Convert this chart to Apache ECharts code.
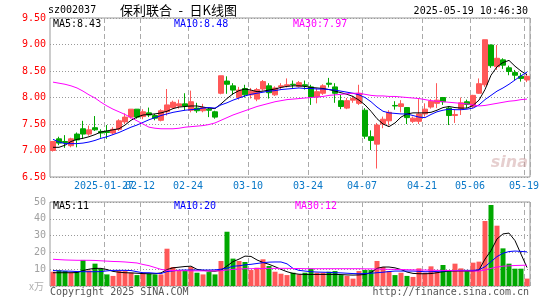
<!DOCTYPE html>
<html><head><meta charset="utf-8">
<script src="https://cdn.jsdelivr.net/npm/echarts@6/dist/echarts.min.js"></script>
<style>html,body{margin:0;padding:0;background:#fff}#c{width:545px;height:300px}</style>
</head><body><div id="c"></div>
<script>
const dates = ['2025-01-14','2025-01-15','2025-01-16','2025-01-17','2025-01-20','2025-01-21','2025-01-22','2025-01-23','2025-01-24','2025-01-27',
'2025-02-05','2025-02-06','2025-02-07','2025-02-10','2025-02-11','2025-02-12','2025-02-13','2025-02-14','2025-02-17','2025-02-18',
'2025-02-19','2025-02-20','2025-02-21','2025-02-24','2025-02-25','2025-02-26','2025-02-27','2025-02-28','2025-03-03','2025-03-04',
'2025-03-05','2025-03-06','2025-03-07','2025-03-10','2025-03-11','2025-03-12','2025-03-13','2025-03-14','2025-03-17','2025-03-18',
'2025-03-19','2025-03-20','2025-03-21','2025-03-24','2025-03-25','2025-03-26','2025-03-27','2025-03-28','2025-03-31','2025-04-01',
'2025-04-02','2025-04-03','2025-04-07','2025-04-08','2025-04-09','2025-04-10','2025-04-11','2025-04-14','2025-04-15','2025-04-16',
'2025-04-17','2025-04-18','2025-04-21','2025-04-22','2025-04-23','2025-04-24','2025-04-25','2025-04-28','2025-04-29','2025-04-30',
'2025-05-06','2025-05-07','2025-05-08','2025-05-09','2025-05-12','2025-05-13','2025-05-14','2025-05-15','2025-05-16','2025-05-19'];

const opens = [7.00,7.22,7.17,7.09,7.31,7.41,7.31,7.43,7.36,7.36, 7.33,7.40,7.54,7.63,7.78,7.64,7.71,7.66,7.57,7.73,
7.81,7.84,7.88,7.76,7.80,7.75,7.78,7.73,8.08,8.31, 8.22,8.00,8.17,8.05,7.97,8.16,8.22,8.05,8.20,8.22,
8.25,8.21,8.24,8.20,8.01,8.08,8.27,8.20,7.94,7.80, 7.95,7.89,7.76,7.26,7.12,7.50,7.56,7.85,7.83,7.81,
7.55,7.55,7.69,7.82,7.89,8.00,7.80,7.66,7.79,7.92, 7.83,8.08,8.24,8.99,8.58,8.71,8.56,8.47,8.40,8.33];
const closes = [7.17,7.14,7.15,7.22,7.20,7.31,7.39,7.39,7.33,7.34, 7.40,7.56,7.63,7.78,7.63,7.73,7.67,7.61,7.75,7.86,
7.91,7.88,7.84,7.92,7.75,7.81,7.76,7.63,8.41,8.25, 8.14,8.14,8.05,8.12,8.15,8.30,8.09,8.18,8.22,8.24,
8.24,8.28,8.22,8.01,8.11,8.22,8.25,8.08,7.83,7.94, 7.98,8.08,7.27,7.19,7.48,7.59,7.72,7.84,7.88,7.62,
7.61,7.69,7.78,7.93,7.95,7.92,7.66,7.68,7.90,7.87, 8.04,8.26,9.09,8.60,8.74,8.61,8.49,8.42,8.36,8.40];
const lows = [6.98,7.10,7.05,7.06,7.06,7.22,7.28,7.37,7.24,7.22, 7.30,7.37,7.50,7.60,7.60,7.59,7.63,7.57,7.55,7.66,
7.79,7.79,7.76,7.72,7.71,7.72,7.63,7.60,8.06,8.07, 8.05,7.96,8.00,7.98,7.93,8.13,7.98,8.03,8.15,8.19,
8.18,8.19,8.15,7.86,7.89,8.05,8.19,7.90,7.78,7.78, 7.90,7.86,7.22,7.01,6.66,7.42,7.47,7.77,7.72,7.50,
7.52,7.50,7.64,7.79,7.80,7.86,7.48,7.52,7.67,7.80, 7.80,8.07,8.20,8.56,8.52,8.54,8.42,8.33,8.30,8.29];
const highs = [7.18,7.26,7.29,7.24,7.34,7.56,7.47,7.65,7.40,7.48, 7.44,7.59,7.70,7.78,7.78,7.78,7.81,7.69,7.78,8.16,
7.94,7.96,8.08,8.13,7.90,7.88,7.81,7.75,8.41,8.40, 8.27,8.20,8.24,8.18,8.18,8.33,8.27,8.21,8.27,8.36,
8.32,8.31,8.32,8.24,8.17,8.25,8.37,8.27,8.05,7.99, 8.03,8.24,7.80,7.38,7.52,7.64,7.76,7.93,7.95,7.82,
7.64,7.97,7.89,7.97,8.27,8.01,7.83,7.78,8.00,7.96, 8.05,8.36,9.09,9.00,8.99,8.74,8.60,8.52,8.46,8.45];

const ma5 = [7.06,7.06,7.10,7.17,7.21,7.23,7.26,7.30,7.35,7.37, 7.39,7.41,7.48,7.57,7.63,7.67,7.68,7.69,7.71,7.74,
7.79,7.82,7.83,7.84,7.84,7.82,7.80,7.79,7.88,7.98, 8.07,8.13,8.16,8.14,8.11,8.12,8.14,8.16,8.19,8.21,
8.22,8.22,8.21,8.19,8.18,8.17,8.15,8.12,8.09,8.06, 8.02,7.95,7.86,7.74,7.60,7.50,7.45,7.52,7.63,7.69,
7.71,7.71,7.71,7.72,7.76,7.81,7.83,7.81,7.80,7.80, 7.85,7.95,8.15,8.42,8.58,8.66,8.70,8.59,8.50,8.43];
const ma10 = [7.21,7.16,7.13,7.13,7.13,7.14,7.16,7.19,7.23,7.26, 7.30,7.34,7.39,7.44,7.48,7.53,7.58,7.62,7.66,7.69,
7.72,7.74,7.76,7.77,7.78,7.80,7.81,7.80,7.86,7.90, 7.95,7.99,8.03,8.06,8.08,8.10,8.12,8.13,8.15,8.16,
8.17,8.18,8.17,8.17,8.16,8.16,8.15,8.14,8.12,8.10, 8.08,8.05,8.00,7.92,7.82,7.74,7.71,7.70,7.69,7.69,
7.66,7.63,7.62,7.68,7.73,7.76,7.78,7.77,7.77,7.78, 7.80,7.86,7.96,8.04,8.12,8.18,8.25,8.33,8.41,8.48];
const ma30 = [8.29,8.27,8.25,8.22,8.18,8.12,8.05,7.99,7.91,7.84, 7.78,7.73,7.68,7.62,7.56,7.50,7.44,7.42,7.41,7.41,
7.41,7.42,7.44,7.45,7.46,7.47,7.49,7.52,7.57,7.62, 7.67,7.71,7.75,7.79,7.83,7.86,7.89,7.92,7.94,7.96,
7.97,7.98,7.99,8.00,8.01,8.02,8.04,8.05,8.06,8.07, 8.08,8.08,8.06,8.04,8.03,8.03,8.02,8.02,8.01,8.00,
7.99,7.98,7.96,7.94,7.93,7.92,7.91,7.90,7.89,7.88, 7.86,7.84,7.85,7.87,7.89,7.91,7.93,7.94,7.96,7.97];

const volumes = [8.5,9.3,8.9,7.9,8.5,15.5,9.3,13.3,10.3,6.9, 6.0,8.9,8.9,7.9,6.5,7.9,7.3,6.9,6.9,22.2,
11.3,9.3,9.3,11.3,7.9,6.9,8.3,6.9,14.9,32.3, 16.3,14.9,14.3,9.5,10.9,15.9,11.9,8.5,7.3,6.5,
7.9,6.9,7.9,10.3,7.9,7.9,8.5,8.9,6.5,6.0, 4.4,8.9,9.5,9.5,14.9,11.3,8.9,6.5,7.9,6.0,
5.4,10.5,7.9,11.7,8.5,12.5,9.3,13.3,10.5,9.3, 13.9,14.5,38.7,48.2,35.9,22.4,13.3,10.3,10.3,4.4];
const vma5 = [7.9,7.9,7.9,7.9,8.0,9.2,10.0,10.5,10.5,9.8, 8.7,8.2,7.9,7.8,7.6,7.4,7.3,7.3,7.8,9.8,
10.8,11.2,11.6,11.8,9.9,9.3,8.9,8.8,9.4,11.9, 14.5,16.0,17.8,17.6,15.5,14.0,12.9,11.5,9.9,8.5,
7.5,7.0,6.9,6.9,6.9,6.9,6.9,6.9,6.8,6.6, 6.5,6.6,6.9,8.0,10.5,11.3,11.3,10.8,9.8,8.3,
7.5,7.3,7.3,7.4,7.9,8.5,8.9,8.9,8.9,8.9, 8.9,9.5,16.0,21.0,28.0,31.0,31.5,27.0,19.0,11.0];
const vma10 = [9.2,9.0,8.9,8.8,8.6,8.5,8.5,8.5,8.6,9.0, 9.3,9.3,9.3,9.2,8.5,7.9,7.9,7.6,7.4,8.6,
9.0,9.4,9.5,9.5,9.5,9.5,9.5,9.6,10.0,10.6, 11.8,12.0,12.6,12.9,13.4,13.9,14.2,14.3,14.3,13.2,
10.5,9.3,8.9,8.5,8.3,8.2,8.1,7.9,7.8,7.6, 7.4,7.3,7.4,7.6,7.9,8.2,8.6,8.9,8.9,8.9,
8.9,8.7,8.5,8.5,8.7,8.9,9.1,9.2,9.3,9.3, 9.3,9.6,11.5,14.5,17.5,19.5,20.5,20.8,20.6,20.3];
const vma30 = [15.9,15.7,15.5,15.4,15.3,15.3,15.3,15.2,15.0,14.8, 14.6,14.5,14.3,14.0,13.7,12.8,12.1,11.0,9.9,9.4,
9.2,9.1,9.1,9.0,9.0,9.0,9.0,9.0,9.1,9.5, 9.9,10.1,10.3,10.3,10.4,10.4,10.5,10.5,10.5,10.5,
10.4,10.4,10.3,10.3,10.3,10.3,10.3,10.3,10.3,10.3, 10.3,10.3,10.2,10.2,10.1,10.0,9.9,9.9,9.8,9.7,
9.6,9.5,9.5,9.4,9.3,9.3,9.2,9.1,9.0,9.0, 8.9,8.9,9.5,10.5,11.3,11.8,12.0,12.2,12.3,12.4];

const tickIndex = [9,15,23,33,43,52,62,70,79];
const tickLabels = ['2025-01-27','02-12','02-24','03-10','03-24','04-07','04-21','05-06','05-19'];
const priceTicks = [6.5,7.0,7.5,8.0,8.5,9.0,9.5];
const volTicks = [0,10,20,30,40,50];

const UP = '#ff5858', DOWN = '#00a800';
const MONO = '"DejaVu Sans Mono", monospace';
const isTick = (i) => tickIndex.indexOf(i) >= 0;
const last = (a) => a[a.length - 1];
const firstTick = tickIndex[0];

const chart = echarts.init(document.getElementById('c'), null, {renderer: 'canvas'});
const vSplit = {show: true, interval: (i) => isTick(i), lineStyle: {color: '#aaa', type: [5, 3], width: 1}};
const hSplit = {show: true, lineStyle: {color: '#999', type: [1, 2], width: 1}};

const gridBase = {left: 50, width: 480, show: true, borderColor: '#999', borderWidth: 1, backgroundColor: 'transparent'};

const labelBase = {hideOverlap: false, showMinLabel: true, showMaxLabel: true,
  formatter: (v, i) => tickLabels[tickIndex.indexOf(i)] || '',
  color: '#0a78c8', fontFamily: MONO, fontSize: 10, margin: 4, padding: [0, 6, 0, 0]};

const txt = (text, x, y, color, align, font) => ({
  type: 'text', x: x, y: y, silent: true, z: 100,
  style: {text: text, fill: color, font: font || ('10px ' + MONO), textAlign: align || 'left', textVerticalAlign: 'middle'}
});

chart.setOption({
  animation: false,
  backgroundColor: '#fff',
  grid: [
    Object.assign({top: 18, height: 159}, gridBase),
    Object.assign({top: 202, height: 84}, gridBase)
  ],
  xAxis: [
    {type: 'category', gridIndex: 0, data: dates, boundaryGap: true,
     axisLine: {show: false}, axisTick: {show: false},
     axisLabel: Object.assign({interval: (i) => isTick(i) && i !== firstTick}, labelBase),
     splitLine: vSplit},
    {type: 'category', gridIndex: 1, data: dates, boundaryGap: true,
     axisLine: {show: false}, axisTick: {show: false}, axisLabel: {show: false},
     splitLine: vSplit},
    {type: 'category', gridIndex: 0, data: dates, boundaryGap: true, position: 'bottom',
     axisLine: {show: false}, axisTick: {show: false}, splitLine: {show: false},
     axisLabel: Object.assign({interval: (i) => i === firstTick}, labelBase)}
  ],
  yAxis: [
    {type: 'value', gridIndex: 0, min: priceTicks[0], max: last(priceTicks), interval: 0.5,
     axisLine: {show: false}, axisTick: {show: false},
     axisLabel: {color: '#f00', fontFamily: MONO, fontSize: 10, margin: 4, formatter: (v) => v.toFixed(2)},
     splitLine: hSplit},
    {type: 'value', gridIndex: 1, min: volTicks[0], max: last(volTicks), interval: 10,
     axisLine: {show: false}, axisTick: {show: false},
     axisLabel: {color: '#a0a0a0', fontFamily: MONO, fontSize: 10, margin: 4, formatter: (v) => v === 0 ? '' : String(v)},
     splitLine: hSplit}
  ],
  series: [
    {type: 'candlestick', xAxisIndex: 0, yAxisIndex: 0, barWidth: 5,
     data: dates.map((d, i) => [opens[i], closes[i], lows[i], highs[i]]),
     itemStyle: {color: UP, color0: DOWN, borderColor: UP, borderColor0: DOWN, borderWidth: 1}},
    {type: 'line', xAxisIndex: 0, yAxisIndex: 0, data: ma5, showSymbol: false, lineStyle: {color: '#000', width: 1}, z: 5},
    {type: 'line', xAxisIndex: 0, yAxisIndex: 0, data: ma10, showSymbol: false, lineStyle: {color: '#0000ff', width: 1}, z: 5},
    {type: 'line', xAxisIndex: 0, yAxisIndex: 0, data: ma30, showSymbol: false, lineStyle: {color: '#ff00ff', width: 1}, z: 5},
    {type: 'bar', xAxisIndex: 1, yAxisIndex: 1, barWidth: 5,
     data: volumes.map((v, i) => ({value: v, itemStyle: {color: closes[i] >= opens[i] ? UP : DOWN}}))},
    {type: 'line', xAxisIndex: 1, yAxisIndex: 1, data: vma5, showSymbol: false, lineStyle: {color: '#000', width: 1}, z: 5},
    {type: 'line', xAxisIndex: 1, yAxisIndex: 1, data: vma10, showSymbol: false, lineStyle: {color: '#0000ff', width: 1}, z: 5},
    {type: 'line', xAxisIndex: 1, yAxisIndex: 1, data: vma30, showSymbol: false, lineStyle: {color: '#ff00ff', width: 1}, z: 5}
  ],
  graphic: [
    txt('sz002037', 48, 10, '#000'),
    txt('保利联合\u2002-\u2002日K线图', 120, 10, '#000', 'left', '13px "Noto Sans CJK SC"'),
    txt('2025-05-19 10:46:30', 528, 11, '#000', 'right'),
    txt('MA5:' + last(ma5).toFixed(2), 53, 24, '#000'),
    txt('MA10:' + last(ma10).toFixed(2), 174, 24, '#0000ff'),
    txt('MA30:' + last(ma30).toFixed(2), 293, 24, '#ff00ff'),
    txt('MA5:' + Math.round(last(vma5)), 53, 206, '#000'),
    txt('MA10:' + Math.round(last(vma10)), 174, 206, '#0000ff'),
    txt('MA30:' + Math.round(last(vma30)), 295, 206, '#ff00ff'),
    txt('x万', 29, 286, '#b0b0b0', 'left', '10px "Noto Sans CJK SC"'),
    txt('Copyright 2025 SINA.COM', 50, 292, '#555'),
    txt('http://finance.sina.com.cn', 529, 292, '#555', 'right'),
    txt('sina', 528, 163, 'rgba(205,160,160,0.5)', 'right', 'italic bold 16px "DejaVu Sans"')
  ]
});
</script></body></html>
